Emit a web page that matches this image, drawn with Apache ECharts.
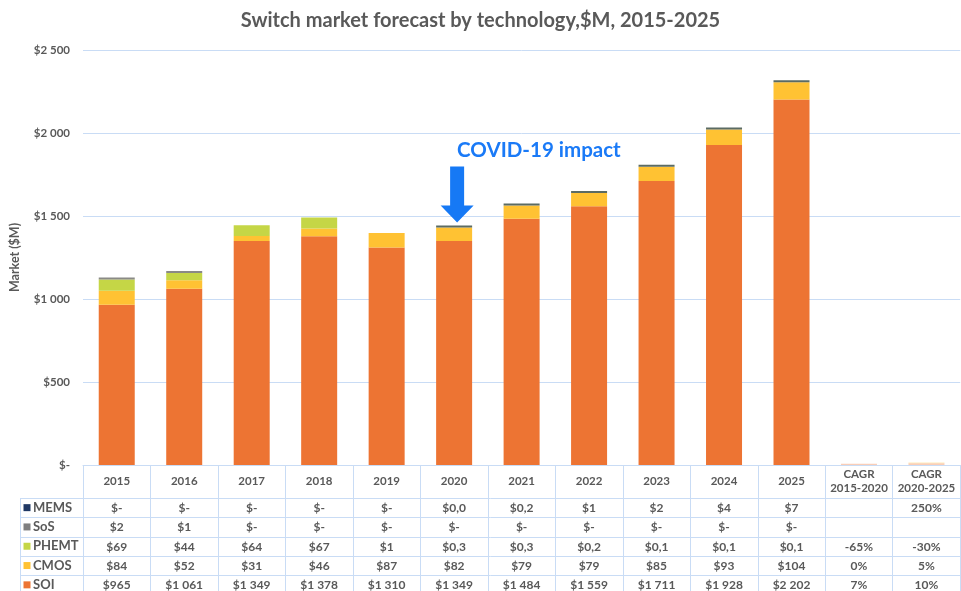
<!DOCTYPE html>
<html><head><meta charset="utf-8">
<script src="https://cdn.jsdelivr.net/npm/echarts@6/dist/echarts.min.js"></script>
<style>html,body{margin:0;padding:0;background:#fff}#c{width:961px;height:591px}</style>
</head><body><div id="c"></div>
<script>
// ---- data ----
const years = ['2015','2016','2017','2018','2019','2020','2021','2022','2023','2024','2025'];
const cagrHeaders = ['CAGR\n2015-2020','CAGR\n2020-2025'];
const soi   = [965,1061,1349,1378,1310,1349,1484,1559,1711,1928,2202];
const cmos  = [84,52,31,46,87,82,79,79,85,93,104];
const phemt = [69,44,64,67,1,0.3,0.3,0.2,0.1,0.1,0.1];
const sos   = [2,1,0,0,0,0,0,0,0,0,0];
const mems  = [0,0,0,0,0,0.03,0.2,1,2,4,7];
const soiCagr   = [7,10];
const cmosCagr  = [0,5];
const phemtCagr = [-65,-30];
const sosCagr   = [null,null];
const memsCagr  = [null,250];
const yTicks = {min:0,max:2500,interval:500};

const names = ['SOI','CMOS','PHEMT','SoS','MEMS'];
const colors = {SOI:'#ED7433',CMOS:'#FFC233',PHEMT:'#C5D646',SoS:'#7F7F7F',MEMS:'#1F3864'};
const barColors = {SOI:'#ED7433',CMOS:'#FFC233',PHEMT:'#C5D646',SoS:'#8A8A86',MEMS:'#5B6B63'};
const values = {SOI:soi,CMOS:cmos,PHEMT:phemt,SoS:sos,MEMS:mems};
const cagrs = {SOI:soiCagr,CMOS:cmosCagr,PHEMT:phemtCagr,SoS:sosCagr,MEMS:memsCagr};
const categories = years.concat(cagrHeaders);

const TXT = '#595959', LINE = '#C9DCF5', FONT = 'Lato, "DejaVu Sans", sans-serif';

function thou(n){ return String(Math.round(n)).replace(/\B(?=(\d{3})+(?!\d))/g,' '); }
function money(v){
  if (v === 0) return '$-';
  if (v < 1) return '$' + v.toFixed(1).replace('.', ',');
  return '$' + thou(v);
}

const chart = echarts.init(document.getElementById('c'));
const thin = {MEMS:true,SoS:true};
const series = names.map(n => {
  const plotted = values[n].map(v => (thin[n] && v === 0) ? null : v);
  // tiny CAGR bars appear only for SOI / CMOS in the reference
  cagrs[n].forEach(c => plotted.push((n==='SOI'||n==='CMOS') && c > 0 ? {value:c,itemStyle:{opacity:0.35}} : null));
  return {name:n,type:'bar',stack:'t',barWidth:36,data:plotted,barMinHeight:thin[n]?2:0,
    itemStyle:{color:barColors[n]},silent:true};
});

chart.setOption({
  animation:false,
  title:{text:'Switch market forecast by technology,$M, 2015-2025',left:'center',top:6,
    textStyle:{fontFamily:FONT,fontSize:20,fontWeight:'bold',color:TXT}},
  grid:{left:82.7,right:0.8,top:50,bottom:126},
  xAxis:{type:'category',data:categories,
    axisLine:{lineStyle:{color:LINE,width:1}},
    axisTick:{show:true,length:126,lineStyle:{color:LINE,width:1}},
    axisLabel:{interval:0,margin:16,verticalAlign:'middle',lineHeight:14,
      fontFamily:FONT,fontSize:11.5,fontWeight:'bold',color:TXT}},
  yAxis:{type:'value',min:yTicks.min,max:yTicks.max,interval:yTicks.interval,
    name:'Market ($M)',nameLocation:'middle',nameGap:62,nameRotate:90,
    nameTextStyle:{fontFamily:FONT,fontSize:12.5,fontWeight:'bold',color:TXT},
    axisLine:{show:false},axisTick:{show:false},
    splitLine:{lineStyle:{color:LINE,width:1}},
    axisLabel:{margin:13,fontFamily:FONT,fontSize:11.5,fontWeight:'bold',color:TXT,
      formatter:v => v===0 ? '$-' : '$' + thou(v)}},
  series:series
});

// ---- data table and annotation ----
const g = [];
const tableTop = 465, headerH = 33, rowH = 19.3, leftX = 20.5, rightX = 961;
const rowOrder = ['MEMS','SoS','PHEMT','CMOS','SOI'];
for (let r = 0; r <= rowOrder.length; r++) {
  const y = Math.round(tableTop + headerH + r*rowH) + 0.5;
  g.push({type:'line',shape:{x1:leftX,y1:y,x2:rightX,y2:y},style:{stroke:LINE,lineWidth:1},silent:true});
}
g.push({type:'line',shape:{x1:leftX,y1:tableTop+headerH,x2:leftX,y2:591},style:{stroke:LINE,lineWidth:1},silent:true});
rowOrder.forEach((n, r) => {
  const cy = tableTop + headerH + r*rowH + rowH/2;
  g.push({type:'rect',shape:{x:23.5,y:cy-3.5,width:7,height:7},style:{fill:colors[n]},silent:true});
  g.push({type:'text',x:33,y:cy,style:{text:n,fontFamily:FONT,fontSize:13,fontWeight:'bold',fill:TXT,verticalAlign:'middle',align:'left'},silent:true});
  const labels = values[n].map(money).concat(cagrs[n].map(c => c === null ? '' : c + '%'));
  labels.forEach((t, i) => {
    const x = chart.convertToPixel({xAxisIndex:0}, i);
    g.push({type:'text',x:x,y:cy+0.5,style:{text:t,fontFamily:FONT,fontSize:12,fontWeight:'bold',fill:TXT,align:'center',verticalAlign:'middle'},silent:true});
  });
});
// COVID annotation anchored on the 2020 bar
const i2020 = years.indexOf('2020');
const top2020 = soi[i2020]+cmos[i2020]+phemt[i2020]+sos[i2020]+mems[i2020];
const p = chart.convertToPixel({gridIndex:0}, [i2020, top2020]);
const ax = p[0] + 3, tip = p[1] - 5;
g.push({type:'polygon',shape:{points:[[ax-7,tip-56],[ax+7,tip-56],[ax+7,tip-17],[ax+16.5,tip-17],[ax,tip],[ax-16.5,tip-17],[ax-7,tip-17]]},
  style:{fill:'#1679F5'},silent:true});
g.push({type:'text',x:ax,y:tip-72,style:{text:'COVID-19 impact',fontFamily:FONT,fontSize:20.5,fontWeight:'bold',fill:'#1A7AF7',align:'left',verticalAlign:'middle'},silent:true});

chart.setOption({graphic:g});
</script>
</body></html>
